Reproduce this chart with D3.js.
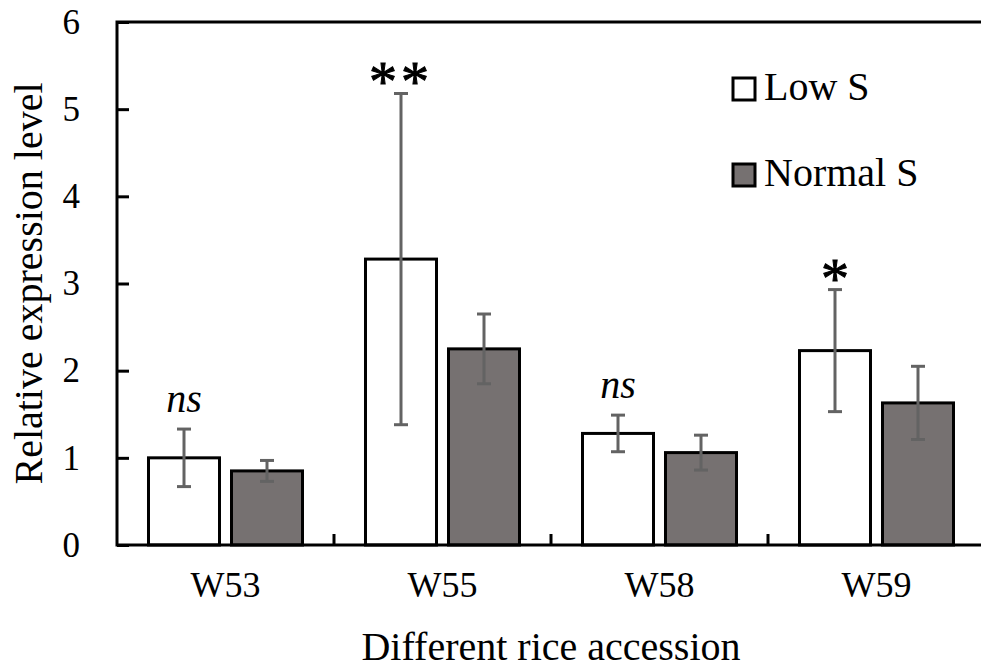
<!DOCTYPE html>
<html>
<head>
<meta charset="utf-8">
<script src="https://cdn.jsdelivr.net/npm/d3@7"></script>
<style>
  html, body { margin: 0; padding: 0; background: #fff; }
  svg { display: block; }
</style>
</head>
<body>
<svg id="chart" width="981" height="668"></svg>
<script>
// ---- data ----
const categories = ["W53", "W55", "W58", "W59"];
const seriesNames = ["Low S", "Normal S"];
const lowS = [1.00, 3.28, 1.28, 2.23];
const lowSErr = [0.33, 1.90, 0.21, 0.70];
const normalS = [0.85, 2.25, 1.06, 1.63];
const normalSErr = [0.12, 0.40, 0.20, 0.42];
const significance = ["ns", "**", "ns", "*"];
const yTicks = [0, 1, 2, 3, 4, 5, 6];
const xTitle = "Different rice accession";
const yTitle = "Relative expression level";

// ---- layout ----
const FONT = "Liberation Serif";
function serif(sel) {
  return sel.attr("font-family", FONT).style("font-family", "'Liberation Serif', serif").attr("fill", "#000");
}
const svg = d3.select("#chart");
const plotLeft = 117, plotRight = 985, plotTop = 22, plotBottom = 545;
const colors = { "Low S": "#ffffff", "Normal S": "#767171" };

const x = d3.scaleBand().domain(categories).range([plotLeft, plotRight]).padding(0);
const x1 = d3.scaleBand().domain(seriesNames).range([0, x.bandwidth()])
  .paddingInner(0.1446).paddingOuter(0.3795);
const y = d3.scaleLinear().domain([0, 6]).range([plotBottom, plotTop]);

const rows = categories.map((c, i) => ({
  cat: c,
  vals: [
    { s: "Low S", v: lowS[i], e: lowSErr[i] },
    { s: "Normal S", v: normalS[i], e: normalSErr[i] }
  ],
  sig: significance[i]
}));

// bars
const g = svg.append("g");
const grp = g.selectAll("g.grp").data(rows).join("g")
  .attr("transform", d => `translate(${x(d.cat)},0)`);
grp.selectAll("rect").data(d => d.vals).join("rect")
  .attr("x", d => x1(d.s))
  .attr("y", d => y(d.v))
  .attr("width", x1.bandwidth())
  .attr("height", d => y(0) - y(d.v))
  .attr("fill", d => colors[d.s])
  .attr("stroke", "#000")
  .attr("stroke-width", 3);

// error bars
const capW = 7;
const eb = grp.selectAll("g.eb").data(d => d.vals).join("g")
  .attr("stroke", "#636363").attr("stroke-width", 3);
eb.append("line")
  .attr("x1", d => x1(d.s) + x1.bandwidth() / 2)
  .attr("x2", d => x1(d.s) + x1.bandwidth() / 2)
  .attr("y1", d => y(d.v - d.e)).attr("y2", d => y(d.v + d.e));
eb.append("line")
  .attr("x1", d => x1(d.s) + x1.bandwidth() / 2 - capW)
  .attr("x2", d => x1(d.s) + x1.bandwidth() / 2 + capW)
  .attr("y1", d => y(d.v + d.e)).attr("y2", d => y(d.v + d.e));
eb.append("line")
  .attr("x1", d => x1(d.s) + x1.bandwidth() / 2 - capW)
  .attr("x2", d => x1(d.s) + x1.bandwidth() / 2 + capW)
  .attr("y1", d => y(d.v - d.e)).attr("y2", d => y(d.v - d.e));

// significance labels
grp.each(function (d) {
  const lo = d.vals[0];
  const cx = x1("Low S") + x1.bandwidth() / 2;
  const topY = y(lo.v + lo.e);
  const sel = d3.select(this);
  if (d.sig === "ns") {
    serif(sel.append("text")).attr("x", cx).attr("y", topY - 17)
      .attr("text-anchor", "middle").attr("font-size", 40)
      .attr("font-style", "italic").text(d.sig);
  } else {
    serif(sel.append("text")).attr("x", cx).attr("y", topY + 8)
      .attr("text-anchor", "middle").attr("font-size", 56)
      .attr("stroke", "#000").attr("stroke-width", 1)
      .attr("letter-spacing", d.sig.length > 1 ? 4 : 0)
      .text(d.sig);
  }
});

// frame
svg.append("rect").attr("x", plotLeft).attr("y", plotTop)
  .attr("width", plotRight - plotLeft).attr("height", plotBottom - plotTop)
  .attr("fill", "none").attr("stroke", "#000").attr("stroke-width", 3);

// y axis
const yAxis = d3.axisLeft(y).tickValues(yTicks).tickSize(-12).tickPadding(37)
  .tickFormat(d3.format("d"));
const ya = svg.append("g").attr("transform", `translate(${plotLeft},0)`).call(yAxis);
ya.attr("font-family", FONT).attr("font-size", 35);
ya.select(".domain").remove();
ya.selectAll(".tick line").attr("stroke", "#000").attr("stroke-width", 3);
serif(ya.selectAll(".tick text")).attr("font-size", 35);

// x axis interior ticks (category boundaries)
svg.append("g").selectAll("line").data(categories.slice(1)).join("line")
  .attr("x1", d => x(d)).attr("x2", d => x(d))
  .attr("y1", plotBottom).attr("y2", plotBottom - 11)
  .attr("stroke", "#000").attr("stroke-width", 3);

// x tick labels
serif(svg.append("g").selectAll("text").data(categories).join("text"))
  .attr("x", d => x(d) + x.bandwidth() / 2).attr("y", 597)
  .attr("text-anchor", "middle").attr("font-size", 36).text(d => d);

// titles
serif(svg.append("text")).attr("x", 551).attr("y", 660)
  .attr("text-anchor", "middle").attr("font-size", 40).text(xTitle);
serif(svg.append("text")).attr("transform", `translate(42,${(plotTop + plotBottom) / 2}) rotate(-90)`)
  .attr("text-anchor", "middle").attr("font-size", 40).text(yTitle);

// legend
const lg = svg.append("g").selectAll("g").data(seriesNames).join("g")
  .attr("transform", (d, i) => `translate(733,${78 + i * 86})`);
lg.append("rect").attr("width", 22).attr("height", 22)
  .attr("fill", d => colors[d]).attr("stroke", "#000").attr("stroke-width", 3);
serif(lg.append("text")).attr("x", 31).attr("y", 22).attr("font-size", 40).text(d => d);
</script>
</body>
</html>
